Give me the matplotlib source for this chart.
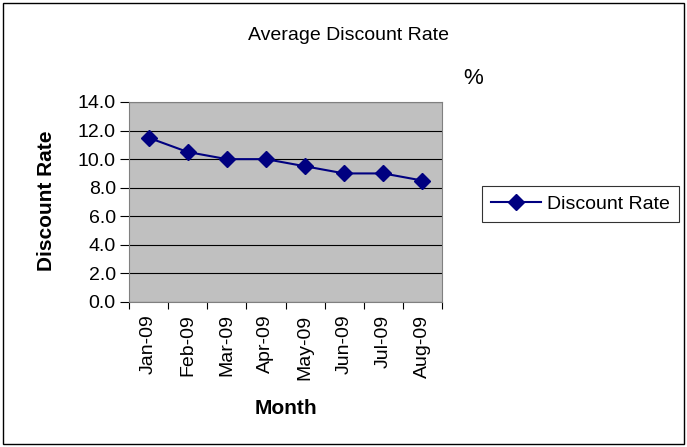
import matplotlib.pyplot as plt
from matplotlib.patches import Rectangle

# data
months = ['Jan-09', 'Feb-09', 'Mar-09', 'Apr-09', 'May-09', 'Jun-09', 'Jul-09', 'Aug-09']
discount_rate = [11.5, 10.5, 10.0, 10.0, 9.5, 9.0, 9.0, 8.5]
y_ticks = [0, 2, 4, 6, 8, 10, 12, 14]

plt.rcParams['font.family'] = ['Liberation Sans', 'DejaVu Sans']

fig = plt.figure(figsize=(6.87, 4.47), dpi=100)
ax = fig.add_axes([129 / 687, 1 - 302 / 447, 313 / 687, 200 / 447])

x = range(len(months))
ax.plot(x, discount_rate, color='#000080', marker='D', markersize=8,
        linewidth=1.5, label='Discount Rate')

ax.set_facecolor('#C0C0C0')
ax.set_xlim(-0.5, len(months) - 0.5)
ax.set_ylim(0, 14)
ax.set_yticks(y_ticks)
ax.set_yticklabels([f'{v:.1f}' for v in y_ticks], fontsize=14)
ax.yaxis.grid(True, color='black', linewidth=0.8)
ax.set_axisbelow(True)

# category boundaries get the ticks, labels sit between them
ax.set_xticks([i - 0.5 for i in range(len(months) + 1)], minor=False)
ax.set_xticklabels([''] * (len(months) + 1))
ax.set_xticks(list(x), minor=True)
ax.set_xticklabels(months, minor=True, rotation=90, fontsize=14)
ax.tick_params(axis='x', which='minor', length=0, pad=9)
ax.tick_params(axis='x', which='major', length=5, direction='out', color='black')
ax.tick_params(axis='y', length=6.5, direction='out', color='black', pad=3)

for side in ['top', 'right', 'left', 'bottom']:
    ax.spines[side].set_color('#808080')

fig.text(47 / 687, 1 - 201 / 447, 'Discount Rate', rotation=90, ha='center', va='center',
         fontsize=15, fontweight='bold')
fig.text(286 / 687, 1 - 408 / 447, 'Month', ha='center', va='center',
         fontsize=15, fontweight='bold')

fig.text(348 / 687, 1 - 36 / 447, 'Average Discount Rate', ha='center', va='center', fontsize=14)
fig.text(473 / 687, 1 - 78 / 447, '%', ha='center', va='center', fontsize=16)

leg = fig.legend(loc='center left', bbox_to_anchor=(482 / 687, 1 - 204 / 447),
                 fontsize=14, frameon=True, fancybox=False, edgecolor='black',
                 handlelength=2.6, handletextpad=0.3, borderpad=0.45, borderaxespad=0)
leg.get_frame().set_linewidth(0.8)

fig.patches.append(Rectangle((3 / 687, 3 / 447), 681 / 687, 441 / 447,
                             transform=fig.transFigure, fill=False,
                             edgecolor='black', linewidth=1))

fig.savefig('out.png', dpi=100)
